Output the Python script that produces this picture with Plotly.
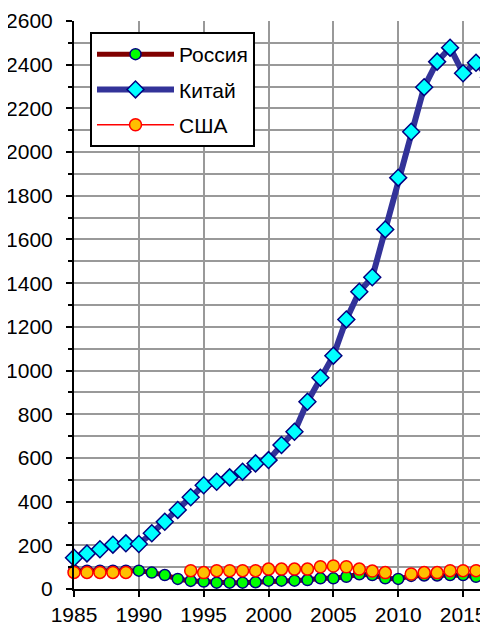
import plotly.graph_objects as go

years = list(range(1985, 2018))

russia = [84, 84, 84, 84, 84, 84, 75, 64, 46, 37, 34, 29, 29, 29, 31, 38, 38, 38, 41, 49,
          49, 56, 67, 64, 49, 46, 60, 62, 62, 64, 64, 56, 56]

china = [143, 163, 182, 203, 209, 206, 255, 308, 362, 420, 475, 491, 511, 537, 575, 590,
         659, 720, 857, 967, 1068, 1234, 1361, 1427, 1646, 1883, 2093, 2297, 2414, 2478,
         2361, 2409, 2342]

usa = [76, 76, 76, 76, 76, None, None, None, None, 84, 75, 84, 84, 84, 84, 91, 91, 91, 91,
       102, 105, 102, 91, 82, 75, None, 69, 75, 75, 84, 84, 84, None]

names = ["Россия", "Китай", "США"]

FONT = "Liberation Sans, Arial, sans-serif"

fig = go.Figure()
fig.add_trace(go.Scatter(
    x=years, y=russia, name=names[0], mode="lines+markers",
    line=dict(color="#800000", width=5),
    marker=dict(symbol="circle", size=11, color="#00FF00", line=dict(color="#000080", width=1.5)),
    cliponaxis=False, legendgroup="a"))
fig.add_trace(go.Scatter(
    x=years, y=china, name=names[1], mode="lines+markers",
    line=dict(color="#333399", width=6),
    marker=dict(symbol="diamond", size=13, color="#00FFFF", line=dict(color="#000080", width=1.5)),
    cliponaxis=False, legendgroup="b"))
fig.add_trace(go.Scatter(
    x=years, y=usa, name=names[2], mode="lines+markers",
    line=dict(color="#FF0000", width=1.5),
    marker=dict(symbol="circle", size=12, color="#FFC000", line=dict(color="#FF0000", width=1.5)),
    cliponaxis=False, connectgaps=False, legendgroup="c"))

# page body has an 8px default margin: figure is offset by 8px
fig.update_layout(
    width=481, height=615,
    margin=dict(l=66, r=0, t=13, b=34, autoexpand=False),
    paper_bgcolor="white", plot_bgcolor="white",
    font=dict(family=FONT, size=21, color="black"),
    showlegend=True,
    legend=dict(
        x=(82 - 66) / 415, y=(589 - 8 - 13 - 11) / 568, xanchor="left", yanchor="top",
        bgcolor="white", bordercolor="black", borderwidth=2,
        font=dict(family=FONT, size=21, color="black"),
        traceorder="grouped", tracegroupgap=5,
        itemwidth=77,
    ),
    xaxis=dict(
        range=[1985, 2017], dtick=5, tick0=1985,
        showgrid=True, gridcolor="#999999", gridwidth=2,
        showline=True, linecolor="black", linewidth=2,
        ticks="outside", ticklen=6, tickwidth=2, tickcolor="black",
        zeroline=False, tickfont=dict(size=21), automargin=False,
    ),
    yaxis=dict(
        range=[0, 2600], dtick=200, tick0=0,
        showgrid=True, gridcolor="#999999", gridwidth=2,
        minor=dict(dtick=100, showgrid=True, gridcolor="#999999", gridwidth=2,
                   ticks="outside", ticklen=4, tickcolor="black", tickwidth=2),
        showline=True, linecolor="black", linewidth=2,
        ticks="outside", ticklen=6, tickwidth=2, tickcolor="black",
        zeroline=False, tickfont=dict(size=21), ticklabelstandoff=9, automargin=False,
    ),
)

fig.write_html("out.html")
